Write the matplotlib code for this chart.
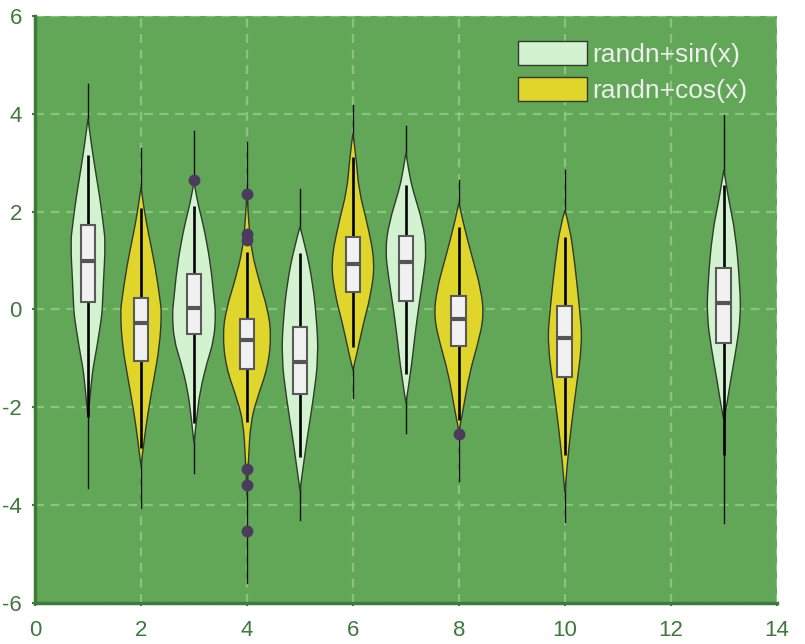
import matplotlib.pyplot as plt
from matplotlib.patches import Patch, PathPatch
from matplotlib.path import Path

plt.rcParams["axes.unicode_minus"] = False

# positions and which series each violin belongs to
positions = [1, 2, 3, 4, 5, 6, 7, 8, 10, 13]
series = ["sin", "cos", "sin", "cos", "sin", "cos", "sin", "cos", "cos", "sin"]

# box statistics
q1 = [0.15, -1.05, -0.50, -1.22, -1.73, 0.36, 0.17, -0.74, -1.38, -0.68]
med = [1.00, -0.28, 0.03, -0.62, -1.07, 0.93, 0.97, -0.19, -0.58, 0.13]
q3 = [1.73, 0.23, 0.72, -0.20, -0.36, 1.48, 1.50, 0.28, 0.07, 0.85]
whisk_lo = [-2.20, -2.83, -2.33, -2.30, -3.02, -0.77, -1.32, -2.26, -2.97, -2.98]
whisk_hi = [3.15, 2.07, 2.12, 1.18, 1.15, 3.12, 2.55, 1.69, 1.48, 2.55]
line_lo = [-3.65, -4.06, -3.35, -5.60, -4.30, -1.81, -2.53, -3.50, -4.35, -4.37]
line_hi = [4.60, 3.30, 3.65, 3.43, 2.46, 4.18, 3.75, 2.65, 2.85, 3.98]
outliers = [[], [], [2.64], [2.37, 1.55, 1.43, -3.26, -3.59, -4.53], [], [], [], [-2.55], [], []]

# violin outlines: heights and half widths
prof_y = [
    [3.9, 3.4, 2.9, 2.24, 1.73, 1.36, 0.54, 0.0, -0.2, -0.76, -1.17, -1.45, -2.2],
    [2.5, 2.03, 1.56, 0.87, 0.2, -0.07, -0.76, -1.44, -2.12, -2.67, -3.2],
    [2.6, 2.24, 1.97, 1.56, 0.87, 0.2, -0.07, -0.62, -1.1, -1.65, -2.12, -2.73],
    [2.4, 1.8, 1.22, 0.54, 0.05, -0.48, -1.17, -1.85, -2.32, -3.0, -3.8],
    [1.69, 1.22, 0.54, -0.15, -0.97, -1.85, -2.53, -3.22, -3.7],
    [3.6, 3.12, 2.44, 1.77, 0.95, 0.26, -0.27, -0.83, -1.24],
    [3.2, 2.79, 2.44, 1.77, 1.22, 0.67, 0.05, -0.62, -1.3, -1.91],
    [2.18, 1.77, 1.07, 0.4, -0.15, -0.69, -1.3, -1.99, -2.5],
    [2.03, 1.69, 1.01, 0.0, -0.68, -1.71, -2.4, -3.08, -3.75],
    [2.85, 2.24, 1.56, 0.54, -0.15, -0.83, -1.5, -1.99, -2.26],
]
prof_w = [
    [0, 0.06, 0.13, 0.23, 0.29, 0.33, 0.29, 0.27, 0.25, 0.17, 0.10, 0.066, 0],
    [0, 0.06, 0.14, 0.27, 0.36, 0.39, 0.35, 0.24, 0.13, 0.06, 0],
    [0, 0.06, 0.12, 0.21, 0.32, 0.38, 0.41, 0.38, 0.24, 0.12, 0.06, 0],
    [0, 0.03, 0.08, 0.24, 0.38, 0.46, 0.40, 0.18, 0.07, 0.03, 0],
    [0, 0.12, 0.24, 0.31, 0.35, 0.25, 0.15, 0.06, 0],
    [0, 0.06, 0.11, 0.27, 0.42, 0.33, 0.20, 0.09, 0],
    [0, 0.06, 0.13, 0.32, 0.39, 0.33, 0.24, 0.16, 0.09, 0],
    [0, 0.08, 0.25, 0.42, 0.47, 0.36, 0.20, 0.09, 0],
    [0, 0.09, 0.18, 0.28, 0.33, 0.20, 0.12, 0.05, 0],
    [0, 0.09, 0.22, 0.30, 0.32, 0.23, 0.12, 0.05, 0],
]

colors = {"sin": "#d3f2cf", "cos": "#e0d52b"}
labels = {"sin": "randn+sin(x)", "cos": "randn+cos(x)"}
bg = "#62a758"
tick_col = "#3e7a3a"
box_w = 0.28


def smooth_side(pts, verts, codes):
    # quadratic curves through midpoints, knots act as control points
    for k in range(1, len(pts) - 1):
        nxt = pts[k + 1] if k == len(pts) - 2 else (
            ((pts[k][0] + pts[k + 1][0]) / 2, (pts[k][1] + pts[k + 1][1]) / 2))
        verts += [pts[k], nxt]
        codes += [Path.CURVE3, Path.CURVE3]


fig = plt.figure(figsize=(8.05, 6.44), dpi=100)
ax = fig.add_axes([0.0435, 0.0637, 0.9215, 0.9115])
ax.set_facecolor(bg)

for i, p in enumerate(positions):
    ys = prof_y[i]
    ws = prof_w[i]
    right = [(p + w, y) for w, y in zip(ws, ys)]
    left = [(p - w, y) for w, y in zip(ws, ys)][::-1]
    verts = [right[0]]
    codes = [Path.MOVETO]
    smooth_side(right, verts, codes)
    smooth_side(left, verts, codes)
    verts.append(right[0])
    codes.append(Path.CLOSEPOLY)

    ax.plot([p, p], [line_lo[i], line_hi[i]], color="#111111", lw=1.0, zorder=2)
    ax.add_patch(PathPatch(Path(verts, codes), facecolor=colors[series[i]],
                           edgecolor="#2f3a2c", lw=1.0, zorder=3))
    ax.plot([p, p], [whisk_lo[i], whisk_hi[i]], color="#000000", lw=1.9,
            solid_capstyle="butt", zorder=4)
    ax.add_patch(plt.Rectangle((p - box_w / 2, q1[i]), box_w, q3[i] - q1[i],
                               facecolor="#f1f1f1", edgecolor="#5a5a5a", lw=1.5, zorder=5))
    ax.plot([p - box_w / 2, p + box_w / 2], [med[i], med[i]], color="#555555",
            lw=3.0, solid_capstyle="butt", zorder=6)
    if outliers[i]:
        ax.plot([p] * len(outliers[i]), outliers[i], "o", color="#4b3b5c",
                markersize=7.5, zorder=7)

ax.set_xlim(0, 14)
ax.set_ylim(-6, 6)
ax.set_xticks(range(0, 15, 2))
ax.set_yticks(range(-6, 7, 2))
ax.grid(True, color="#94cc88", linestyle=(0, (4, 3)), lw=1.6, alpha=0.8)
ax.set_axisbelow(True)

for s in ["top", "right"]:
    ax.spines[s].set_visible(False)
for s in ["left", "bottom"]:
    ax.spines[s].set_color(tick_col)
    ax.spines[s].set_linewidth(2.5)
ax.tick_params(colors=tick_col, labelsize=16, length=2.5, width=1.5,
               labelfontfamily="Liberation Sans")
ax.tick_params(axis="x", pad=10)
ax.tick_params(axis="y", pad=7)

handles = [Patch(facecolor=colors[k], edgecolor="#2f3a2c", lw=1.0, label=labels[k])
           for k in ["sin", "cos"]]
leg = ax.legend(handles=handles, loc="upper left", bbox_to_anchor=(0.651, 0.957),
                frameon=False, handlelength=2.6, handleheight=1.0, handletextpad=0.23,
                labelspacing=0.38, borderaxespad=0, borderpad=0,
                prop={"family": "Liberation Sans", "size": 19})
for t in leg.get_texts():
    t.set_color("#eeeeee")

fig.savefig("out.png", dpi=100)
